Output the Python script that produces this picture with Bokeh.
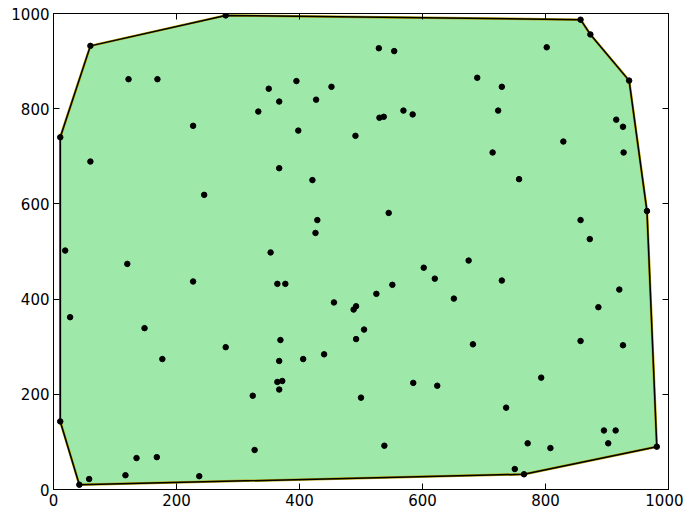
from bokeh.plotting import figure
from bokeh.models import Range1d, LinearAxis, FixedTicker
from bokeh.embed import file_html
from bokeh.resources import INLINE

# Point cloud
pts_x = [42, 58, 117, 135, 168, 237, 11, 327, 148, 177, 280, 324, 27, 120, 227, 19, 245,
         60, 11, 227, 122, 169, 333, 60, 280,
         395, 350, 452, 367, 427, 398, 491, 530, 537, 569, 584, 529, 554, 367,
         421, 545, 429, 426, 353, 364, 377, 602, 620, 675, 551, 525, 651, 456, 492, 488, 505,
         492, 369, 440, 406, 367, 364, 372, 367, 500, 585, 624, 538,
         682, 857, 926, 793, 736, 895, 914, 902, 771, 808, 981, 750, 765,
         757, 965, 857, 872, 729, 920, 886,
         714, 927, 829, 915, 926, 723, 729, 689, 802, 873, 857, 936]
pts_y = [10, 22, 30, 66, 68, 28, 143, 83, 339, 274, 299, 197, 362, 474, 437, 502, 619,
         689, 740, 764, 862, 862, 794, 932, 996,
         858, 842, 846, 815, 819, 754, 743, 781, 783, 796, 788, 927, 921, 675,
         650, 581, 566, 539, 498, 432, 432, 466, 443, 481, 430, 411, 401, 393, 385, 378, 336,
         316, 314, 284, 274, 270, 226, 228, 210, 193, 224, 218, 92,
         305, 312, 303, 235, 172, 124, 124, 97, 97, 87, 90, 43, 32,
         652, 585, 566, 526, 439, 420, 383,
         708, 708, 731, 777, 762, 796, 846, 865, 929, 956, 987, 859]

# Convex hull vertices
hull_x = [42, 765, 981, 965, 936, 873, 857, 280, 60, 11, 11]
hull_y = [10, 32, 90, 585, 859, 956, 987, 996, 932, 740, 143]

ticks = [0, 200, 400, 600, 800, 1000]

p = figure(width=683, height=510, output_backend="svg", toolbar_location=None,
           x_range=Range1d(0, 1000), y_range=Range1d(0, 1000),
           x_axis_location=None, y_axis_location=None,
           min_border_left=53, min_border_right=15, min_border_top=13, min_border_bottom=21)
p.grid.visible = False
p.outline_line_color = "black"
p.outline_line_width = 1

p.patch(hull_x, hull_y, fill_color="#9EE9AA", line_color="#b0a000", line_width=2.5)
p.line(hull_x + [hull_x[0]], hull_y + [hull_y[0]], line_color="black", line_width=1.5)
p.scatter(pts_x, pts_y, size=5.5, color="black")

for loc, show in (("below", True), ("left", True), ("above", False), ("right", False)):
    ax = LinearAxis(ticker=FixedTicker(ticks=ticks))
    ax.major_tick_in = 6
    ax.major_tick_out = 0
    ax.minor_tick_line_color = None
    ax.axis_line_color = "black"
    ax.major_tick_line_color = "black"
    ax.major_label_text_font = "DejaVu Sans"
    if show:
        ax.major_label_text_color = "black"
        ax.major_label_text_font_size = "15px"
        ax.major_label_standoff = 4
    else:
        ax.major_label_text_color = None
        ax.major_label_text_font_size = "1px"
        ax.major_label_standoff = 0
    p.add_layout(ax, loc)

open("out.html", "w").write(file_html(p, INLINE))
